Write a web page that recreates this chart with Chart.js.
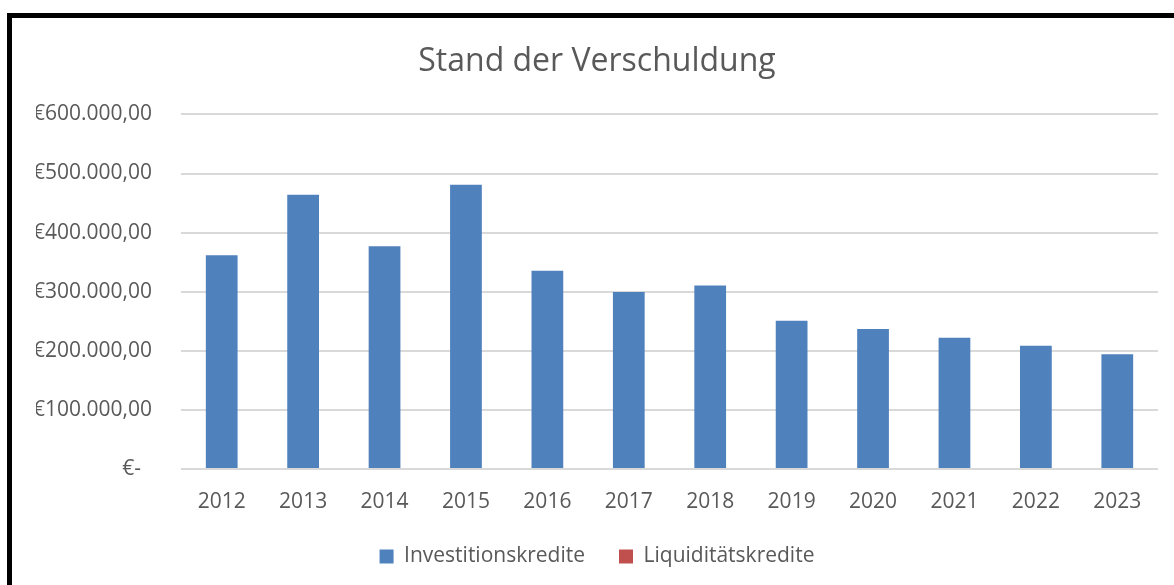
<!DOCTYPE html>
<html>
<head>
<meta charset="utf-8">
<script src="https://cdn.jsdelivr.net/npm/chart.js@4/dist/chart.umd.min.js"></script>
<style>
  html, body { margin: 0; padding: 0; background: #fff; overflow: hidden; }
  #rahmen {
    position: absolute; left: 7px; top: 13px; width: 1200px; height: 600px;
    border-left: 5px solid #000; border-top: 5px solid #000;
  }
  #box { position: absolute; left: 12px; top: 18px; width: 1162px; height: 567px; }
</style>
</head>
<body>
<div id="rahmen"></div>
<div id="box"><canvas id="verschuldung"></canvas></div>
<script>
// Daten
const jahre = ['2012', '2013', '2014', '2015', '2016', '2017', '2018', '2019', '2020', '2021', '2022', '2023'];
const investitionskredite = [361500, 464000, 377000, 481000, 335500, 299500, 310500, 251000, 237000, 222000, 208500, 194000];
const liquiditaetskredite = [null, null, null, null, null, null, null, null, null, null, null, null];

const textFarbe = '#595959';
const schrift = 'Open Sans, Arial, sans-serif';

// Betrag im Excel-Buchhaltungsformat
function euro(wert) {
  if (wert === 0) return '€-  ';
  const ganz = Math.round(wert).toString().replace(/\B(?=(\d{3})+(?!\d))/g, '.');
  return '€' + ganz + ',00';
}

new Chart(document.getElementById('verschuldung'), {
  type: 'bar',
  data: {
    labels: jahre,
    datasets: [{
      label: 'Investitionskredite',
      data: investitionskredite,
      backgroundColor: '#4F81BD',
      borderColor: '#4F81BD',
      borderWidth: 0,
      grouped: false
    }, {
      label: 'Liquiditätskredite',
      data: liquiditaetskredite,
      backgroundColor: '#C0504D',
      borderColor: '#C0504D',
      borderWidth: 0,
      grouped: false
    }]
  },
  options: {
    responsive: true,
    maintainAspectRatio: false,
    animation: false,
    devicePixelRatio: 1,
    categoryPercentage: 1,
    barPercentage: 0.39,
    layout: { padding: { left: 24, right: 16, top: 25, bottom: 8 } },
    plugins: {
      title: {
        display: true,
        text: 'Stand der Verschuldung',
        color: textFarbe,
        font: { family: schrift, size: 32, weight: 'normal' },
        padding: { top: 0, bottom: 33 }
      },
      legend: {
        position: 'bottom',
        labels: {
          color: textFarbe,
          font: { family: schrift, size: 21 },
          boxWidth: 14,
          boxHeight: 14,
          padding: 34
        }
      },
      tooltip: { enabled: false }
    },
    scales: {
      x: {
        afterFit: (achse) => { achse.height = 43; },
        grid: { display: false },
        border: { display: false },
        ticks: {
          color: textFarbe,
          font: { family: schrift, size: 21 },
          padding: 12
        }
      },
      y: {
        min: 0,
        max: 600000,
        afterFit: (achse) => { achse.width = 145; },
        border: { display: false },
        grid: { color: '#D9D9D9', lineWidth: 2, drawTicks: false },
        ticks: {
          stepSize: 100000,
          color: textFarbe,
          font: { family: schrift, size: 21 },
          padding: 29,
          callback: (wert) => euro(wert)
        }
      }
    }
  }
});
</script>
</body>
</html>
